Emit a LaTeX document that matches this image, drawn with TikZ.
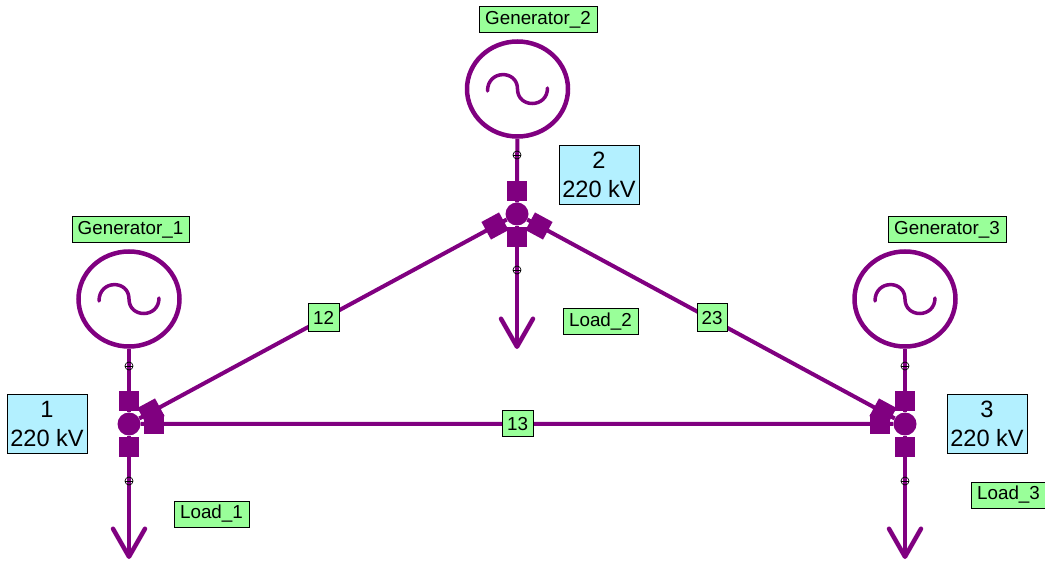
\documentclass[tikz,border=0pt]{standalone}
\usepackage{fontspec}
\setmainfont{Liberation Sans}
\usetikzlibrary{arrows.meta,shapes.geometric}
\definecolor{busline}{HTML}{800080}
\definecolor{labelgreen}{HTML}{99FF99}
\definecolor{labelblue}{HTML}{B3F0FF}
\tikzset{
  wire/.style={draw=busline,line width=4pt},
  loadwire/.style={wire,-{Straight Barb[length=28pt,width=32pt,line width=4.5pt,round]}},
  bus/.style={circle,fill=busline,minimum size=23pt,inner sep=0pt},
  breaker/.style={rectangle,fill=busline,minimum size=20pt,inner sep=0pt},
  gen/.style={ellipse,draw=busline,line width=4.5pt,fill=white,minimum width=101pt,minimum height=95pt,inner sep=0pt},
  meter/.style={circle,draw=black,line width=0.7pt,minimum size=8pt,inner sep=0pt},
  namebox/.style={rectangle,draw=black,line width=1pt,fill=labelgreen,font=\fontsize{18.8pt}{20pt}\selectfont,inner sep=0pt,minimum height=26pt},
  busbox/.style={rectangle,draw=black,line width=1pt,fill=labelblue,font=\fontsize{23.6pt}{29pt}\selectfont,align=center,inner sep=0pt,minimum width=80pt,minimum height=59pt}
}
\begin{document}
\begin{tikzpicture}[x=1pt,y=-1pt]
  \useasboundingbox (0,0) rectangle (1045,561);

  % generators
  \node (g1) at (129,299) [gen] {};
  \node (g2) at (517.5,89) [gen] {};
  \node (g3) at (905,299) [gen] {};

  % buses
  \node (b1) at (129,424) [bus] {};
  \node (b2) at (517,214) [bus] {};
  \node (b3) at (905,424) [bus] {};

  % load ends
  \coordinate (l1) at (129,559);
  \coordinate (l2) at (517,349);
  \coordinate (l3) at (905,559);

  % lines first, breakers sit on them
  \draw [wire] (g1) -- (b1);
  \draw [wire] (g2) -- (b2);
  \draw [wire] (g3) -- (b3);
  \draw [loadwire] (b1) -- (l1);
  \draw [loadwire] (b2) -- (l2);
  \draw [loadwire] (b3) -- (l3);
  \draw [wire] (b1) -- (b2) (b2) -- (b3) (b1) -- (b3);

  % breakers
  \node (s1t) at (129,401) [breaker] {};
  \node (s1b) at (129,447) [breaker] {};
  \node (s1r) at (154,424) [breaker] {};
  \node (s1d) at (151,412) [breaker,rotate=28.4] {};
  \node (s2t) at (517,191) [breaker] {};
  \node (s2b) at (517,237) [breaker] {};
  \node (s2l) at (495,226) [breaker,rotate=28.4] {};
  \node (s2r) at (539,226) [breaker,rotate=-28.4] {};
  \node (s3t) at (905,401) [breaker] {};
  \node (s3b) at (905,447) [breaker] {};
  \node (s3l) at (880,424) [breaker] {};
  \node (s3d) at (883,412) [breaker,rotate=-28.4] {};

  % small meters on the stubs
  \foreach \name/\px/\py in {m1/129/366,m2/129/481,m3/517/155,m4/517/270,m5/905/366,m6/905/481} {
    \node (\name) at (\px,\py) [meter] {};
    \draw [black,line width=0.7pt] (\name.west) -- (\name.east);
  }

  % sine wave in each generator
  \foreach \g in {g1,g2,g3} {
    \draw [draw=busline,line width=3.5pt,line cap=round,shift={(\g)}]
      (-30,2) .. controls (-30,-19.5) and (0,-19.5) .. (0,0)
      .. controls (0,19.5) and (30,19.5) .. (30,-1);
  }

  % bus labels
  \node (t1) at (47,424) [busbox] {1\\220 kV};
  \node (t2) at (599,175) [busbox] {2\\220 kV};
  \node (t3) at (987,424) [busbox] {3\\220 kV};

  % green labels
  \node (n1) at (130.5,230) [namebox,minimum width=117pt] {Generator\_1};
  \node (n2) at (538,20) [namebox,minimum width=118pt] {Generator\_2};
  \node (n3) at (947,230) [namebox,minimum width=118pt] {Generator\_3};
  \node (n4) at (211.5,514) [namebox,minimum width=75pt] {Load\_1};
  \node (n5) at (600.5,322) [namebox,minimum width=75pt] {Load\_2};
  \node (n6) at (1008.5,495) [namebox,minimum width=75pt] {Load\_3};
  \node (n7) at (323.5,318) [namebox,minimum width=31pt,minimum height=28pt] {12};
  \node (n8) at (712,318) [namebox,minimum width=30pt,minimum height=28pt] {23};
  \node (n9) at (517.5,424) [namebox,minimum width=31pt] {13};
\end{tikzpicture}
\end{document}
